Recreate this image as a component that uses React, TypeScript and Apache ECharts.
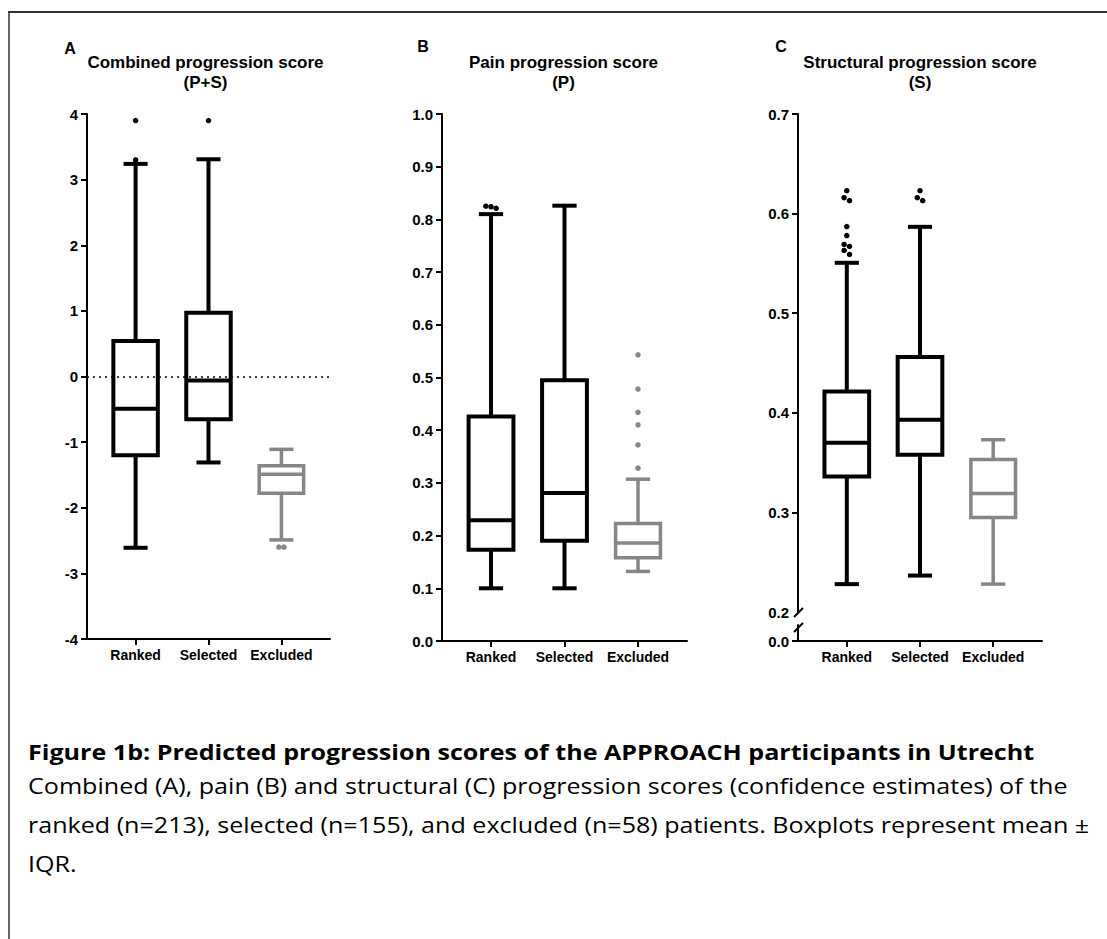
import React, { useEffect, useRef } from 'react';
import * as echarts from 'echarts';

const categories = ['Ranked', 'Selected', 'Excluded'];

// [min, Q1, median, Q3, max] per category
const combinedStats = [
  [-2.61, -1.2, -0.49, 0.54, 3.24],
  [-1.31, -0.65, -0.06, 0.97, 3.31],
  [-2.49, -1.78, -1.49, -1.36, -1.11],
];
const combinedOutliersBlack = [[1, 3.9], [1, 3.3], [2, 3.9]];
const combinedOutliersGray = [[2.965, -2.6], [3.035, -2.6]];

const painStats = [
  [0.1, 0.173, 0.229, 0.426, 0.81],
  [0.1, 0.19, 0.281, 0.495, 0.826],
  [0.132, 0.158, 0.186, 0.223, 0.307],
];
const painOutliersBlack = [[0.93, 0.825], [1, 0.824], [1.07, 0.821]];
const painOutliersGray = [[3, 0.543], [3, 0.478], [3, 0.434], [3, 0.41], [3, 0.372], [3, 0.328]];

const structStats = [
  [0.228, 0.336, 0.37, 0.4215, 0.5506],
  [0.2366, 0.358, 0.393, 0.456, 0.5867],
  [0.228, 0.295, 0.319, 0.353, 0.373],
];
const structOutliersBlack = [
  [1, 0.623], [0.963, 0.616], [1.037, 0.613], [1, 0.587], [1, 0.578],
  [0.963, 0.569], [1.037, 0.567], [0.963, 0.563], [1.037, 0.559],
  [2, 0.623], [1.963, 0.616], [2.037, 0.613],
];

const combinedTicks = [-4, -3, -2, -1, 0, 1, 2, 3, 4];
const painTicks = [0, 0.1, 0.2, 0.3, 0.4, 0.5, 0.6, 0.7, 0.8, 0.9, 1.0];
const structTicksUpper = [0.2, 0.3, 0.4, 0.5, 0.6, 0.7];
const structTicksLower = [0];

const BLACK = '#000000';
const GRAY = '#868686';
const BOX_HALF = 0.305;
const CAP_HALF = 0.165;
const AX_FONT = "'Liberation Sans', Arial, sans-serif";

function boxSeries(stats: number[][], idxs: number[], color: string, ax: number, lw: number) {
  return {
    type: 'custom',
    xAxisIndex: ax,
    yAxisIndex: ax,
    data: idxs.map((i) => [i + 1, ...stats[i]]),
    renderItem: (params: any, api: any) => {
      const x = api.value(0);
      const lo = api.coord([x, api.value(1)]);
      const q1 = api.coord([x, api.value(2)]);
      const md = api.coord([x, api.value(3)]);
      const q3 = api.coord([x, api.value(4)]);
      const hi = api.coord([x, api.value(5)]);
      const unit = api.size([1, 0])[0];
      const bw = unit * BOX_HALF;
      const cw = unit * CAP_HALF;
      const st = { stroke: color, lineWidth: lw, fill: 'none' };
      return {
        type: 'group',
        children: [
          { type: 'line', shape: { x1: q3[0], y1: q3[1], x2: hi[0], y2: hi[1] }, style: st },
          { type: 'line', shape: { x1: hi[0] - cw, y1: hi[1], x2: hi[0] + cw, y2: hi[1] }, style: st },
          { type: 'line', shape: { x1: q1[0], y1: q1[1], x2: lo[0], y2: lo[1] }, style: st },
          { type: 'line', shape: { x1: lo[0] - cw, y1: lo[1], x2: lo[0] + cw, y2: lo[1] }, style: st },
          {
            type: 'rect',
            shape: { x: q3[0] - bw, y: q3[1], width: 2 * bw, height: q1[1] - q3[1] },
            style: { stroke: color, lineWidth: lw, fill: '#ffffff' },
          },
          { type: 'line', shape: { x1: md[0] - bw, y1: md[1], x2: md[0] + bw, y2: md[1] }, style: st },
        ],
      };
    },
    z: 3,
  };
}

function outlierSeries(points: number[][], color: string, ax: number, extra: any = {}) {
  return {
    type: 'scatter',
    xAxisIndex: ax,
    yAxisIndex: ax,
    data: points,
    symbol: 'circle',
    symbolSize: 5.5,
    itemStyle: { color, opacity: 1 },
    z: 4,
    ...extra,
  };
}

const axisLine = { show: true, onZero: false, lineStyle: { color: '#000', width: 2 } };
const axisTickBase = { show: true, length: 6, lineStyle: { color: '#000', width: 2 } };
const labelBase = { color: '#000', fontWeight: 'bold' as const, fontSize: 14, fontFamily: AX_FONT };

function xAxis(grid: number, show = true) {
  return {
    type: 'value',
    gridIndex: grid,
    min: 1 / 3,
    max: 11 / 3,
    show,
    splitLine: { show: false },
    axisLine,
    axisTick: { ...axisTickBase, customValues: [1, 2, 3] },
    axisLabel: {
      ...labelBase,
      margin: 9,
      customValues: [1, 2, 3],
      formatter: (v: number) => categories[Math.round(v) - 1] || '',
    },
  };
}

function yAxis(grid: number, min: number, max: number, ticks: number[], labels: number[], dec: number, tickVals?: number[]) {
  return {
    type: 'value',
    gridIndex: grid,
    min,
    max,
    splitLine: { show: false },
    axisLine,
    axisTick: { ...axisTickBase, customValues: tickVals || ticks },
    axisLabel: {
      ...labelBase,
      fontSize: 15,
      margin: 9,
      customValues: labels,
      formatter: (v: number) => (dec === 0 ? String(Math.round(v)) : v.toFixed(dec)),
    },
  };
}

function ttext(x: number, y: number, text: string, size: number, align = 'center') {
  return {
    type: 'text',
    x,
    y,
    style: {
      text,
      fontSize: size,
      fontWeight: 'bold',
      fontFamily: AX_FONT,
      fill: '#000',
      align,
      verticalAlign: 'middle',
    },
  };
}

function ctext(y: number, text: string, bold: boolean) {
  return {
    type: 'text',
    x: 28,
    y,
    scaleX: 1.195,
    style: {
      text,
      fontSize: 21,
      fontWeight: bold ? 'bold' : 'normal',
      fontFamily: "'Open Sans', 'Noto Sans', sans-serif",
      fill: '#000',
      align: 'left',
      verticalAlign: 'middle',
    },
  };
}

const option = {
  animation: false,
  backgroundColor: '#ffffff',
  grid: [
    { left: 87, top: 114, width: 243, height: 525 },
    { left: 442, top: 114, width: 245, height: 527 },
    { left: 798, top: 114, width: 244, height: 498 },
    { left: 798, top: 625, width: 244, height: 16 },
  ],
  xAxis: [xAxis(0), xAxis(1), xAxis(2, false), xAxis(3)],
  yAxis: [
    yAxis(0, -4, 4, combinedTicks, combinedTicks, 0),
    yAxis(1, 0, 1, painTicks, painTicks, 1),
    yAxis(2, 0.2, 0.7, structTicksUpper, structTicksUpper, 1, structTicksUpper.slice(1)),
    yAxis(3, 0, 0.05, structTicksLower, structTicksLower, 1),
  ],
  series: [
    boxSeries(combinedStats, [0, 1], BLACK, 0, 4),
    boxSeries(combinedStats, [2], GRAY, 0, 3.5),
    outlierSeries(combinedOutliersBlack, BLACK, 0, {
      markLine: {
        silent: true,
        symbol: 'none',
        label: { show: false },
        lineStyle: { type: [2, 4], color: '#000', width: 1.5, opacity: 1 },
        data: [{ yAxis: 0 }],
      },
    }),
    outlierSeries(combinedOutliersGray, GRAY, 0),
    boxSeries(painStats, [0, 1], BLACK, 1, 4),
    boxSeries(painStats, [2], GRAY, 1, 3.5),
    outlierSeries(painOutliersBlack, BLACK, 1),
    outlierSeries(painOutliersGray, GRAY, 1),
    boxSeries(structStats, [0, 1], BLACK, 2, 4),
    boxSeries(structStats, [2], GRAY, 2, 3.5),
    outlierSeries(structOutliersBlack, BLACK, 2),
  ],
  graphic: [
    { type: 'line', shape: { x1: 8, y1: 12, x2: 1107, y2: 12 }, style: { stroke: '#333', lineWidth: 2 } },
    { type: 'line', shape: { x1: 9, y1: 11, x2: 9, y2: 939 }, style: { stroke: '#333', lineWidth: 1.5 } },
    ttext(70, 48, 'A', 16),
    ttext(205.5, 62, 'Combined progression score', 17),
    ttext(205.5, 82, '(P+S)', 17),
    ttext(423, 46, 'B', 16),
    ttext(563.5, 62, 'Pain progression score', 17),
    ttext(563.5, 82, '(P)', 17),
    ttext(781, 46, 'C', 16),
    ttext(920, 62, 'Structural progression score', 17),
    ttext(920, 82, '(S)', 17),
    { type: 'line', shape: { x1: 794, y1: 617, x2: 803, y2: 608 }, style: { stroke: '#000', lineWidth: 2 } },
    { type: 'line', shape: { x1: 794, y1: 632, x2: 803, y2: 623 }, style: { stroke: '#000', lineWidth: 2 } },
    ctext(752, 'Figure 1b: Predicted progression scores of the APPROACH participants in Utrecht', true),
    ctext(786, 'Combined (A), pain (B) and structural (C) progression scores (confidence estimates) of the', false),
    ctext(825, 'ranked (n=213), selected (n=155), and excluded (n=58) patients. Boxplots represent mean \u00b1', false),
    ctext(864, 'IQR.', false),
  ],
};

export default function App() {
  const ref = useRef<HTMLDivElement>(null);
  useEffect(() => {
    const chart = echarts.init(ref.current as HTMLDivElement, null, { renderer: 'svg' });
    chart.setOption(option as any);
    return () => chart.dispose();
  }, []);
  return (
    <div
      ref={ref}
      style={{ position: 'absolute', left: 0, top: 0, width: 1107, height: 939, background: '#fff' }}
    />
  );
}
